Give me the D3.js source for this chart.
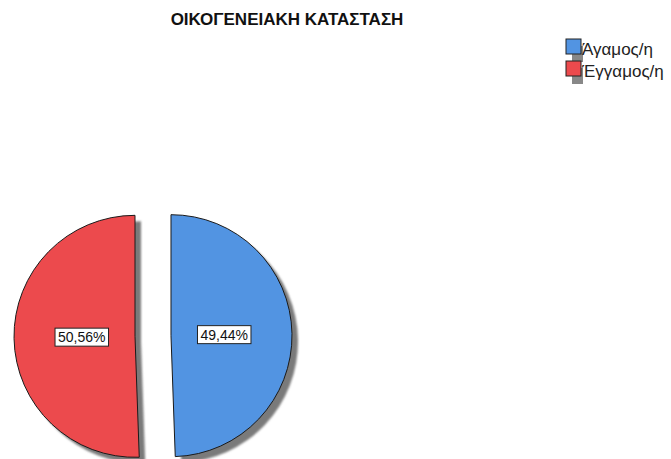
<!DOCTYPE html>
<html>
<head>
<meta charset="utf-8">
<script src="https://cdn.jsdelivr.net/npm/d3@7"></script>
<style>
  body { margin: 0; background: #fff; }
  text { font-family: "Liberation Sans", Arial, sans-serif; }
</style>
</head>
<body>
<div id="chart"></div>
<script>
// data
const categories = ["Άγαμος/η", "Έγγαμος/η"];
const values = [49.44, 50.56];
const colors = ["#5294e2", "#ec4a4d"];
const titleText = "ΟΙΚΟΓΕΝΕΙΑΚΗ ΚΑΤΑΣΤΑΣΗ";

const width = 671, height = 459;
const cx = 153, cy = 336, radius = 121, explode = 18;

const svg = d3.select("#chart").append("svg")
  .attr("width", width)
  .attr("height", height);

// blur for the shadow
const defs = svg.append("defs");
defs.append("filter").attr("id", "blur")
  .append("feGaussianBlur").attr("stdDeviation", 0.8);

svg.append("text")
  .attr("x", 287)
  .attr("y", 25)
  .attr("text-anchor", "middle")
  .attr("font-weight", "bold")
  .attr("font-size", 17)
  .attr("fill", "#111")
  .text(titleText);

const pie = d3.pie().sort(null).value(d => d);
const arcs = pie(values);
const arc = d3.arc().innerRadius(0).outerRadius(radius);
const labelArc = d3.arc().innerRadius(0).outerRadius(radius * 0.88);

// offset for each exploded slice
function shift(d) {
  const a = (d.startAngle + d.endAngle) / 2;
  return [Math.sin(a) * explode, -Math.cos(a) * explode];
}

const g = svg.append("g").attr("transform", "translate(" + cx + "," + cy + ")");

// shadows
g.selectAll(".shadow").data(arcs).enter().append("path")
  .attr("class", "shadow")
  .attr("d", arc)
  .attr("fill", "#7a7a7a")
  .attr("filter", "url(#blur)")
  .attr("transform", d => { const s = shift(d); return "translate(" + (s[0] + 6) + "," + (s[1] + 6) + ")"; });

// slices
g.selectAll(".slice").data(arcs).enter().append("path")
  .attr("class", "slice")
  .attr("d", arc)
  .attr("fill", (d, i) => colors[i])
  .attr("stroke", "#1a1a1a")
  .attr("stroke-width", 1)
  .attr("transform", d => { const s = shift(d); return "translate(" + s[0] + "," + s[1] + ")"; });

// labels
const fmt = v => v.toFixed(2).replace(".", ",") + "%";
const labels = g.selectAll(".lab").data(arcs).enter().append("g")
  .attr("class", "lab")
  .attr("transform", d => {
    const s = shift(d), c = labelArc.centroid(d);
    return "translate(" + (c[0] + s[0]) + "," + (c[1] + s[1]) + ")";
  });
labels.append("text")
  .attr("text-anchor", "middle")
  .attr("dy", "0.35em")
  .attr("font-size", 14)
  .attr("fill", "#111")
  .text(d => fmt(d.data));
labels.each(function() {
  const t = d3.select(this).select("text");
  const b = t.node().getBBox();
  d3.select(this).insert("rect", "text")
    .attr("x", b.x - 3).attr("y", b.y - 1)
    .attr("width", b.width + 6).attr("height", b.height + 2)
    .attr("fill", "#fff").attr("stroke", "#222").attr("stroke-width", 1);
});

// legend
const legend = svg.append("g").attr("transform", "translate(566,39)");
const items = legend.selectAll(".item").data(categories).enter().append("g")
  .attr("transform", (d, i) => "translate(0," + i * 22 + ")");
items.append("rect")
  .attr("x", 6).attr("y", 7).attr("width", 11).attr("height", 16)
  .attr("fill", "#888");
items.append("rect")
  .attr("x", 0).attr("y", 0).attr("width", 15).attr("height", 15)
  .attr("fill", (d, i) => colors[i])
  .attr("stroke", "#222").attr("stroke-width", 1);
items.append("text")
  .attr("x", 16).attr("y", 16)
  .attr("font-size", 17)
  .attr("fill", "#222")
  .text(d => d);
</script>
</body>
</html>
